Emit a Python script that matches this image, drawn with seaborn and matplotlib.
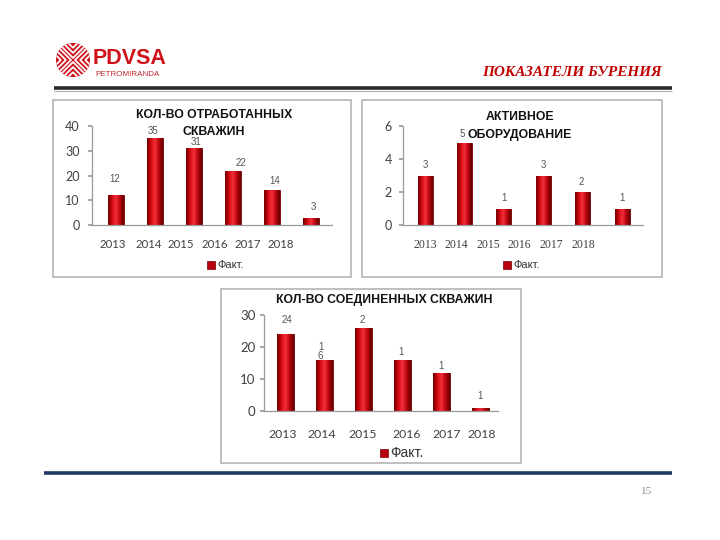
import matplotlib
matplotlib.use("Agg")
import matplotlib.pyplot as plt
from matplotlib.patches import Rectangle, Circle
from matplotlib.lines import Line2D
from matplotlib.colors import LinearSegmentedColormap
import numpy as np
import seaborn as sns
import pandas as pd

sns.set_theme(style="white")
plt.rcParams['font.family'] = ['Lato', 'DejaVu Sans']

# ---------------- data ----------------
years = ["2013", "2014", "2015", "2016", "2017", "2018"]
worked_wells = [12, 35, 31, 22, 14, 3]
worked_labels = ["12", "35", "31", "22", "14", "3"]
active_equipment = [3, 5, 1, 3, 2, 1]
active_labels = ["3", "5", "1", "3", "2", "1"]
connected_wells = [24, 16, 26, 16, 12, 1]
connected_labels = ["24", "1\n6", "2", "1", "1", "1"]
legend_label = "Факт."
title1_lines = ["КОЛ-ВО ОТРАБОТАННЫХ", "СКВАЖИН"]
title2_lines = ["АКТИВНОЕ", "ОБОРУДОВАНИЕ"]
title3 = "КОЛ-ВО СОЕДИНЕННЫХ СКВАЖИН"
header_title = "ПОКАЗАТЕЛИ БУРЕНИЯ"
page_number = "15"

W, H = 720, 540
fig = plt.figure(figsize=(7.2, 5.4), dpi=100)
fig.patch.set_facecolor("white")

def fx(x):
    return x / W

def fy(y):
    return 1 - y / H

RED = "#c80e16"
EDGE = "#7a0000"
TXT = "#404040"
SANS = ["Liberation Sans", "DejaVu Sans"]

bar_cmap = LinearSegmentedColormap.from_list(
    "bar3d", ["#6e0000", "#b40008", "#e3161f", "#f0303a", "#d0101a", "#a00006", "#600000"])
grad = np.linspace(0, 1, 64).reshape(1, -1)

# ---------------- panel boxes ----------------
for (x0, y0, x1, y1) in [(53, 100, 351, 277), (362, 100, 662, 277), (221, 289, 521, 463)]:
    fig.patches.append(Rectangle((fx(x0), fy(y1)), fx(x1 - x0), (y1 - y0) / H,
                                 transform=fig.transFigure, facecolor="white",
                                 edgecolor="#b4b4b4", linewidth=1.2, zorder=-5))

def panel(rect_px, values, labels, ylim, yticks, xlim, tickpos, width,
          xfs, yfs, xfamily, xpad, ypad, lab_offsets):
    x0, ytop, x1, ybot = rect_px
    ax = fig.add_axes([fx(x0), fy(ybot), fx(x1 - x0), (ybot - ytop) / H])
    ax.set_zorder(2)
    df = pd.DataFrame({"year": years, "value": values})
    sns.barplot(data=df, x="year", y="value", ax=ax, color=RED, width=width,
                edgecolor=EDGE, linewidth=0.6, saturation=1)
    # cylinder-like shading clipped to each bar drawn by seaborn
    for p in list(ax.patches):
        bx, by = p.get_x(), p.get_y()
        bw, bh = p.get_width(), p.get_height()
        im = ax.imshow(grad, extent=(bx, bx + bw, by, by + bh), cmap=bar_cmap,
                       aspect="auto", zorder=p.get_zorder() + 0.1, interpolation="bilinear")
        im.set_clip_path(p)
    ax.set_xlim(*xlim)
    ax.set_ylim(*ylim)
    ax.set_yticks(yticks)
    ax.set_yticklabels([str(t) for t in yticks], fontsize=yfs, color=TXT)
    ax.set_xticks(tickpos)
    ax.set_xticklabels(years, fontsize=xfs, color=TXT, family=xfamily)
    ax.set_xlabel("")
    ax.set_ylabel("")
    ax.patch.set_alpha(0)
    for s in ["top", "right"]:
        ax.spines[s].set_visible(False)
    for s in ["left", "bottom"]:
        ax.spines[s].set_color("#9a9a9a")
        ax.spines[s].set_linewidth(0.9)
    ax.tick_params(axis="y", length=3, color="#9a9a9a", pad=ypad, left=True)
    ax.tick_params(axis="x", length=0, pad=xpad)
    for i, (v, lab) in enumerate(zip(values, labels)):
        dx, dy = lab_offsets[i]
        ax.annotate(lab, (i, v), xytext=(dx, dy), textcoords="offset pixels",
                    ha="center", va="center", fontsize=7, color="#555555",
                    family=SANS, linespacing=0.9, annotation_clip=False, zorder=6)
    return ax

# Panel 1
panel((92, 126, 332, 225), worked_wells, worked_labels, (0, 40), [0, 10, 20, 30, 40],
      (-0.615, 5.54), [-0.08, 0.83, 1.67, 2.54, 3.38, 4.23], 0.4,
      8.2, 9, ["Lato"], 10, 6,
      [(-1, 16), (-2, 7), (2, 6), (8, 8), (3, 9), (2, 11)])
# Panel 2
panel((403, 126, 643, 225), active_equipment, active_labels, (0, 6), [0, 2, 4, 6],
      (-0.56, 5.53), [0.0, 0.79, 1.6, 2.39, 3.2, 4.01], 0.38,
      8.5, 9, ["Liberation Serif", "DejaVu Serif"], 10, 5,
      [(0, 11), (-2, 9), (0, 11), (0, 11), (-1, 10), (0, 11)])
# Panel 3
panel((264, 315, 498, 411), connected_wells, connected_labels, (0, 30), [0, 10, 20, 30],
      (-0.55, 5.44), [-0.08, 0.93, 1.98, 3.09, 4.12, 5.03], 0.43,
      8.8, 9.5, ["Lato"], 13, 3,
      [(1, 14), (-4, 8), (-1, 8), (-2, 8), (-1, 7), (-1, 12)])

# ---------------- titles ----------------
title_kw = dict(ha="center", va="center", fontweight="bold", color="#111111",
                family=SANS, zorder=3)
fig.text(fx(214), fy(115), title1_lines[0], fontsize=8.8, **title_kw)
fig.text(fx(214), fy(132), title1_lines[1], fontsize=8.8, **title_kw)
fig.text(fx(520), fy(117), title2_lines[0], fontsize=8.8, **title_kw)
fig.text(fx(520), fy(135), title2_lines[1], fontsize=8.8, **title_kw)
fig.text(fx(384), fy(300), title3, fontsize=8.8, **title_kw)

# ---------------- legends ----------------
for (sx, sy, sz, fs) in [(211, 265, 8, 8), (507, 265, 8, 8), (384, 453, 8, 10)]:
    fig.patches.append(Rectangle((fx(sx - sz / 2), fy(sy + sz / 2)), sz / W, sz / H,
                                 transform=fig.transFigure, facecolor="#b80010",
                                 edgecolor=EDGE, linewidth=0.5))
    fig.text(fx(sx + sz / 2 + 2), fy(sy), legend_label, ha="left", va="center",
             fontsize=fs, color="#333333", family=SANS)

# ---------------- header: logo ----------------
lax = fig.add_axes([fx(56), fy(77), fx(34), 34 / H])
lax.set_xlim(-1, 1)
lax.set_ylim(-1, 1)
lax.set_aspect("equal")
lax.axis("off")
disc = Circle((0, 0), 1, facecolor="#d0121b", edgecolor="none")
lax.add_patch(disc)
for d in (0.12, 0.42, 0.72):
    for rot in range(4):
        pts = np.array([[-1.2, d + 1.2], [0, d], [1.2, d + 1.2]])
        ang = rot * np.pi / 2
        R = np.array([[np.cos(ang), -np.sin(ang)], [np.sin(ang), np.cos(ang)]])
        pts = pts @ R.T
        ln, = lax.plot(pts[:, 0], pts[:, 1], color="white", linewidth=1.3)
        ln.set_clip_path(disc)

fig.text(fx(93), fy(59), "PDVSA", ha="left", va="center", fontsize=15.5,
         fontweight="heavy", color="#d0121b", family=SANS)
fig.text(fx(95), fy(75), "PETROMIRANDA", ha="left", va="center", fontsize=5.8,
         color="#c0282d", family=SANS)
fig.text(fx(662), fy(73), header_title, ha="right", va="center", fontsize=11,
         fontweight="bold", fontstyle="italic", family=["Liberation Serif", "DejaVu Serif"],
         color="#c00000")
fig.lines.append(Line2D([fx(54), fx(672)], [fy(88), fy(88)], transform=fig.transFigure,
                        color="#2a2a2a", linewidth=2.6, solid_capstyle="butt"))
fig.lines.append(Line2D([fx(54), fx(672)], [fy(90.5), fy(90.5)], transform=fig.transFigure,
                        color="#b0b0b0", linewidth=0.8, solid_capstyle="butt"))

# ---------------- footer ----------------
fig.lines.append(Line2D([fx(44), fx(672)], [fy(473), fy(473)], transform=fig.transFigure,
                        color="#1f3864", linewidth=2.6, solid_capstyle="butt"))
fig.text(fx(647), fy(491), page_number, ha="center", va="center", fontsize=8,
         family=["Liberation Serif", "DejaVu Serif"], color="#8a8a8a")

fig.savefig("out.png", dpi=100)
